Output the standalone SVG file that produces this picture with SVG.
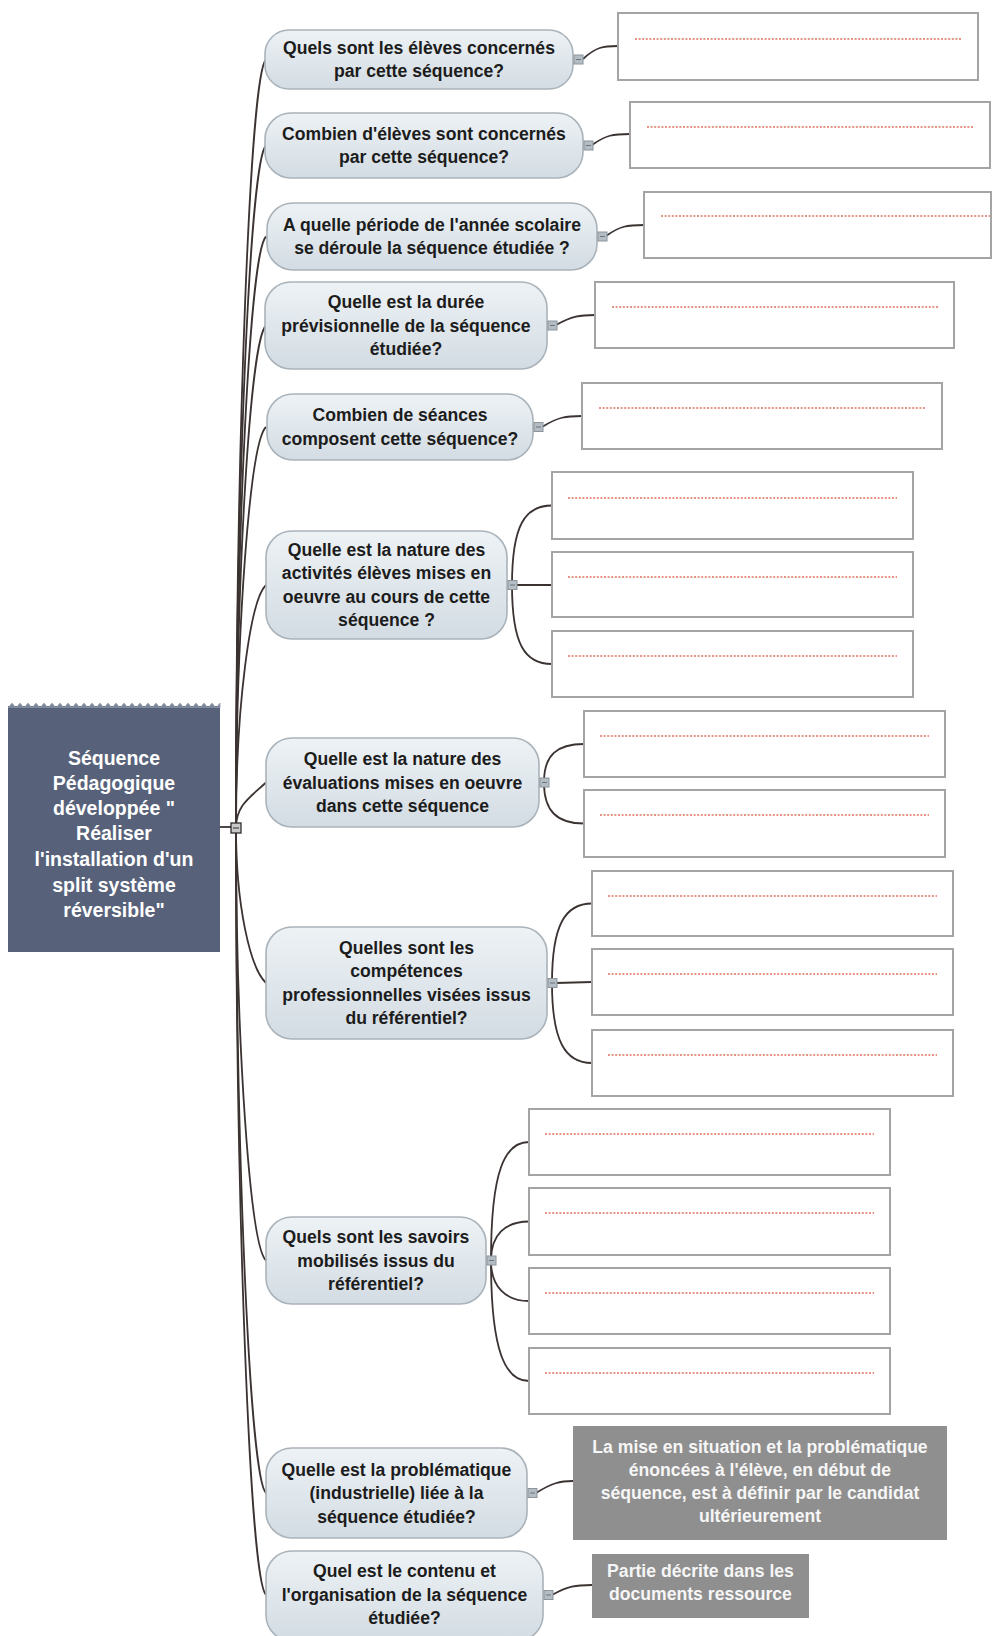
<svg xmlns="http://www.w3.org/2000/svg" width="993" height="1636" viewBox="0 0 993 1636">
<defs>
<linearGradient id="qg" x1="0" y1="0" x2="0" y2="1">
<stop offset="0" stop-color="#edf2f5"/>
<stop offset="1" stop-color="#d3dce3"/>
</linearGradient>
</defs>
<style>
.q{fill:url(#qg);stroke:#aab3ba;stroke-width:1.6}
.qt{font-family:"Liberation Sans",Arial,sans-serif;font-weight:bold;font-size:17.6px;fill:#1c1c1c;text-anchor:middle}
.rt{font-family:"Liberation Sans",Arial,sans-serif;font-weight:bold;font-size:19.5px;fill:#ffffff;text-anchor:middle}
.gt{font-family:"Liberation Sans",Arial,sans-serif;font-weight:bold;font-size:17.6px;fill:#f6f6f6;text-anchor:middle}
.box{fill:#ffffff;stroke:#a4a4a4;stroke-width:2}
.dl{stroke:#e0705e;stroke-width:1.4;stroke-dasharray:2 1.6;fill:none}
.gb{fill:#8f8f8f}
.sq{fill:#b4bcc4;stroke:#8c949c;stroke-width:1}
.sqm{stroke:#6c737a;stroke-width:1}
.c{fill:none;stroke:#3a3331;stroke-width:1.8}
</style>
<rect width="993" height="1636" fill="#ffffff"/>

<g id="connectors">
<path class="c" d="M220,827 L232,827"/>
<path class="c" d="M236,828 C236,444 250,74.5 266,59.5"/>
<path class="c" d="M236,828 C236,487 250,160.5 266,145.5"/>
<path class="c" d="M236,828 C236,532 250,251.5 266,236.5"/>
<path class="c" d="M236,828 C236,577 250,340.5 266,325.5"/>
<path class="c" d="M236,828 C236,627.5 250,442 266,427"/>
<path class="c" d="M236,828 C236,706.5 250,600 266,585"/>
<path class="c" d="M236,828 C236,805 250,797.5 266,782.5"/>
<path class="c" d="M236,828 C236,905.5 250,968 266,983"/>
<path class="c" d="M236,828 C236,1044 250,1245.5 266,1260.5"/>
<path class="c" d="M236,828 C236,1160.5 250,1478 266,1493"/>
<path class="c" d="M236,828 C236,1211.5 250,1580 266,1595"/>

<path class="c" d="M583,59 C596,47 603,46 618,46"/>
<path class="c" d="M592,145 C606,135 613,134 630,134"/>
<path class="c" d="M606,236 C620,226 627,225 644,225"/>
<path class="c" d="M556,325 C572,316 580,315 595,315"/>
<path class="c" d="M542,427 C558,417 566,416 582,416"/>
<path class="c" d="M512,585 C512,525 525,505.5 552,505.5"/>
<path class="c" d="M516,585 L552,585"/>
<path class="c" d="M512,585 C512,645 525,664 552,664"/>
<path class="c" d="M544,782 C544,755 557,744 584,744"/>
<path class="c" d="M544,783 C544,811 557,823.5 584,823.5"/>
<path class="c" d="M552,983 C552,925 565,903.5 592,903.5"/>
<path class="c" d="M556,983 L592,982"/>
<path class="c" d="M552,983 C552,1041 565,1063 592,1063"/>
<path class="c" d="M491,1260 C491,1170 505,1142 529,1142"/>
<path class="c" d="M491,1260 C491,1235 505,1221.5 529,1221.5"/>
<path class="c" d="M491,1261 C491,1286 505,1301 529,1301"/>
<path class="c" d="M491,1261 C491,1351 505,1381 529,1381"/>
<path class="c" d="M536,1493 C552,1483 560,1481 573,1481"/>
<path class="c" d="M552,1595 C568,1586 576,1585 592,1585"/>
</g>

<g id="root">
<rect x="8" y="706" width="212" height="246" fill="#57627a"/>
<polyline fill="#7c869b" stroke="#9aa2b2" stroke-width="0.8" points="8,708 12,703 16,708 20,703 24,708 28,703 32,708 36,703 40,708 44,703 48,708 52,703 56,708 60,703 64,708 68,703 72,708 76,703 80,708 84,703 88,708 92,703 96,708 100,703 104,708 108,703 112,708 116,703 120,708 124,703 128,708 132,703 136,708 140,703 144,708 148,703 152,708 156,703 160,708 164,703 168,708 172,703 176,708 180,703 184,708 188,703 192,708 196,703 200,708 204,703 208,708 212,703 216,708 220,703 220,708"/>
<text class="rt" x="114" y="765">Séquence</text>
<text class="rt" x="114" y="790">Pédagogique</text>
<text class="rt" x="114" y="815">développée "</text>
<text class="rt" x="114" y="840">Réaliser</text>
<text class="rt" x="114" y="866">l'installation d'un</text>
<text class="rt" x="114" y="892">split système</text>
<text class="rt" x="114" y="917">réversible"</text>
<rect x="231" y="823" width="10" height="10" fill="#c9c9c9" stroke="#2e2e2e" stroke-width="1.3"/>
<line x1="233" y1="828" x2="239" y2="828" stroke="#2e2e2e" stroke-width="1"/>
</g>

<g id="n1">
<rect class="q" x="265" y="30" width="308" height="59" rx="24"/>
<text class="qt" x="419" y="53.5">Quels sont les élèves concernés</text>
<text class="qt" x="419" y="77">par cette séquence?</text>
<rect class="sq" x="574" y="55" width="9" height="9"/><line class="sqm" x1="576" y1="59.5" x2="581" y2="59.5"/>
</g>
<g id="b1"><rect class="box" x="618" y="13" width="360" height="67"/><line class="dl" x1="635" y1="39" x2="962" y2="39"/></g>

<g id="n2">
<rect class="q" x="265" y="113" width="318" height="65" rx="26"/>
<text class="qt" x="424" y="139.5">Combien d'élèves sont concernés</text>
<text class="qt" x="424" y="163">par cette séquence?</text>
<rect class="sq" x="584" y="141" width="9" height="9"/><line class="sqm" x1="586" y1="145.5" x2="591" y2="145.5"/>
</g>
<g id="b2"><rect class="box" x="630" y="102" width="360" height="66"/><line class="dl" x1="647" y1="127" x2="974" y2="127"/></g>

<g id="n3">
<rect class="q" x="267" y="203" width="330" height="67" rx="26"/>
<text class="qt" x="432" y="230.5">A quelle période de l'année scolaire</text>
<text class="qt" x="432" y="254">se déroule la séquence étudiée ?</text>
<rect class="sq" x="598" y="232" width="9" height="9"/><line class="sqm" x1="600" y1="236.5" x2="605" y2="236.5"/>
</g>
<g id="b3"><rect class="box" x="644" y="192" width="347" height="66"/><line class="dl" x1="661" y1="216" x2="990" y2="216"/></g>

<g id="n4">
<rect class="q" x="265" y="282" width="282" height="87" rx="26"/>
<text class="qt" x="406" y="308">Quelle est la durée</text>
<text class="qt" x="406" y="331.5">prévisionnelle de la séquence</text>
<text class="qt" x="406" y="355">étudiée?</text>
<rect class="sq" x="548" y="321" width="9" height="9"/><line class="sqm" x1="550" y1="325.5" x2="555" y2="325.5"/>
</g>
<g id="b4"><rect class="box" x="595" y="282" width="359" height="66"/><line class="dl" x1="612" y1="307" x2="938" y2="307"/></g>

<g id="n5">
<rect class="q" x="267" y="394" width="266" height="66" rx="26"/>
<text class="qt" x="400" y="421">Combien de séances</text>
<text class="qt" x="400" y="444.5">composent cette séquence?</text>
<rect class="sq" x="534" y="422.5" width="9" height="9"/><line class="sqm" x1="536" y1="427" x2="541" y2="427"/>
</g>
<g id="b5"><rect class="box" x="582" y="383" width="360" height="66"/><line class="dl" x1="599" y1="408" x2="926" y2="408"/></g>

<g id="n6">
<rect class="q" x="266" y="531" width="241" height="108" rx="26"/>
<text class="qt" x="386.5" y="555.5">Quelle est la nature des</text>
<text class="qt" x="386.5" y="579">activités élèves mises en</text>
<text class="qt" x="386.5" y="602.5">oeuvre au cours de cette</text>
<text class="qt" x="386.5" y="626">séquence ?</text>
<rect class="sq" x="508" y="580.5" width="9" height="9"/><line class="sqm" x1="510" y1="585" x2="515" y2="585"/>
</g>
<g id="b6a"><rect class="box" x="552" y="472" width="361" height="67"/><line class="dl" x1="568" y1="498" x2="897" y2="498"/></g>
<g id="b6b"><rect class="box" x="552" y="552" width="361" height="65"/><line class="dl" x1="568" y1="577" x2="897" y2="577"/></g>
<g id="b6c"><rect class="box" x="552" y="631" width="361" height="66"/><line class="dl" x1="568" y1="656" x2="897" y2="656"/></g>

<g id="n7">
<rect class="q" x="266" y="738" width="273" height="89" rx="26"/>
<text class="qt" x="402.5" y="765">Quelle est la nature des</text>
<text class="qt" x="402.5" y="788.5">évaluations mises en oeuvre</text>
<text class="qt" x="402.5" y="812">dans cette séquence</text>
<rect class="sq" x="540" y="778" width="9" height="9"/><line class="sqm" x1="542" y1="782.5" x2="547" y2="782.5"/>
</g>
<g id="b7a"><rect class="box" x="584" y="711" width="361" height="66"/><line class="dl" x1="600" y1="736" x2="929" y2="736"/></g>
<g id="b7b"><rect class="box" x="584" y="790" width="361" height="67"/><line class="dl" x1="600" y1="815" x2="929" y2="815"/></g>

<g id="n8">
<rect class="q" x="266" y="927" width="281" height="112" rx="26"/>
<text class="qt" x="406.5" y="953.5">Quelles sont les</text>
<text class="qt" x="406.5" y="977">compétences</text>
<text class="qt" x="406.5" y="1000.5">professionnelles visées issus</text>
<text class="qt" x="406.5" y="1024">du référentiel?</text>
<rect class="sq" x="548" y="978.5" width="9" height="9"/><line class="sqm" x1="550" y1="983" x2="555" y2="983"/>
</g>
<g id="b8a"><rect class="box" x="592" y="871" width="361" height="65"/><line class="dl" x1="608" y1="896" x2="937" y2="896"/></g>
<g id="b8b"><rect class="box" x="592" y="949" width="361" height="66"/><line class="dl" x1="608" y1="974" x2="937" y2="974"/></g>
<g id="b8c"><rect class="box" x="592" y="1030" width="361" height="66"/><line class="dl" x1="608" y1="1055" x2="937" y2="1055"/></g>

<g id="n9">
<rect class="q" x="266" y="1217" width="220" height="87" rx="26"/>
<text class="qt" x="376" y="1243">Quels sont les savoirs</text>
<text class="qt" x="376" y="1266.5">mobilisés issus du</text>
<text class="qt" x="376" y="1290">référentiel?</text>
<rect class="sq" x="487" y="1256" width="9" height="9"/><line class="sqm" x1="489" y1="1260.5" x2="494" y2="1260.5"/>
</g>
<g id="b9a"><rect class="box" x="529" y="1109" width="361" height="66"/><line class="dl" x1="545" y1="1134" x2="874" y2="1134"/></g>
<g id="b9b"><rect class="box" x="529" y="1188" width="361" height="67"/><line class="dl" x1="545" y1="1213" x2="874" y2="1213"/></g>
<g id="b9c"><rect class="box" x="529" y="1268" width="361" height="66"/><line class="dl" x1="545" y1="1293" x2="874" y2="1293"/></g>
<g id="b9d"><rect class="box" x="529" y="1348" width="361" height="66"/><line class="dl" x1="545" y1="1373" x2="874" y2="1373"/></g>

<g id="n10">
<rect class="q" x="266" y="1448" width="261" height="90" rx="26"/>
<text class="qt" x="396.5" y="1475.5">Quelle est la problématique</text>
<text class="qt" x="396.5" y="1499">(industrielle) liée à la</text>
<text class="qt" x="396.5" y="1522.5">séquence étudiée?</text>
<rect class="sq" x="528" y="1488.5" width="9" height="9"/><line class="sqm" x1="530" y1="1493" x2="535" y2="1493"/>
</g>
<g id="b10">
<rect class="gb" x="573" y="1426" width="374" height="114"/>
<text class="gt" x="760" y="1453">La mise en situation et la problématique</text>
<text class="gt" x="760" y="1476">énoncées à l'élève, en début de</text>
<text class="gt" x="760" y="1499">séquence, est à définir par le candidat</text>
<text class="gt" x="760" y="1522">ultérieurement</text>
</g>

<g id="n11">
<rect class="q" x="266" y="1551" width="277" height="90" rx="26"/>
<text class="qt" x="404.5" y="1577">Quel est le contenu et</text>
<text class="qt" x="404.5" y="1600.5">l'organisation de la séquence</text>
<text class="qt" x="404.5" y="1624">étudiée?</text>
<rect class="sq" x="544" y="1590.5" width="9" height="9"/><line class="sqm" x1="546" y1="1595" x2="551" y2="1595"/>
</g>
<g id="b11">
<rect class="gb" x="592" y="1554" width="217" height="64"/>
<text class="gt" x="700.5" y="1577">Partie décrite dans les</text>
<text class="gt" x="700.5" y="1600">documents ressource</text>
</g>
</svg>
